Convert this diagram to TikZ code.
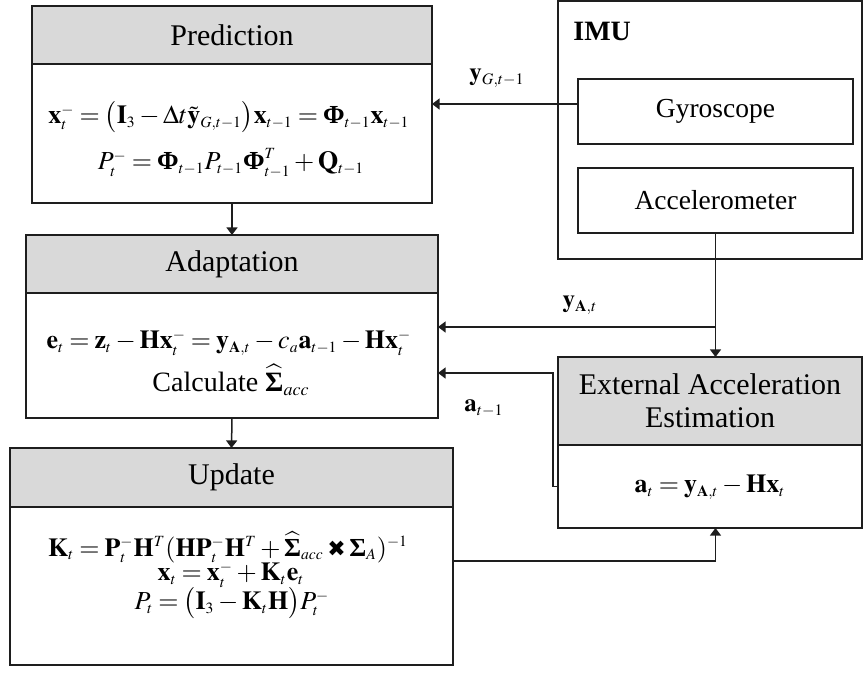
\documentclass[tikz,border=0pt]{standalone}
\usepackage{amsmath}
\usepackage{mathptmx}
\usepackage[no-math]{fontspec}
\setmainfont{Liberation Serif}
\newfontfamily\djv{DejaVu Sans}
\usetikzlibrary{arrows.meta}
\definecolor{hdrgray}{RGB}{217,217,217}
\definecolor{ln}{RGB}{30,30,30}
\newcommand{\bPhi}{\textbf{Φ}}
\newcommand{\bSig}{\textbf{Σ}}
\newcommand{\hSig}{\widehat{\textbf{Σ}}}
\newcommand{\hx}{\mathbin{\mbox{\djv\fontsize{11}{12}\selectfont ✖}}}
\newcommand{\tmsp}{\thickmuskip=3.5mu plus 2mu\relax\medmuskip=2.5mu plus 1mu\relax}
\DeclareMathSizes{13}{13}{7.8}{6}
\DeclareMathSizes{12.5}{12.5}{8}{6}
\DeclareMathSizes{14}{14}{9}{7}
\begin{document}
\begin{tikzpicture}[x=0.5pt,y=-0.5pt,
 box/.style={draw=ln,line width=0.75pt,inner sep=0pt,outer sep=0pt},
 hdr/.style={box,fill=hdrgray,font=\fontsize{15}{16.5}\selectfont,align=center},
 body/.style={box,fill=white},
 txt/.style={inner sep=0pt,font=\fontsize{13}{14}\selectfont\tmsp},
 dev/.style={box,font=\fontsize{13.75}{16}\selectfont},
 arr/.style={draw=ln,line width=0.75pt,-{Triangle[length=3.8pt,width=5.5pt]}},
 lbl/.style={inner sep=0pt,font=\fontsize{12.5}{14}\selectfont}]
\useasboundingbox (0,0) rectangle (864,677);
% Prediction
\node[body,minimum width=200pt,minimum height=69.5pt] (predB) at (232,133.5) {};
\node[hdr,minimum width=200pt,minimum height=29pt] (predH) at (232,35) {Prediction};
\node[txt] (p1) at (229,117) {$\mathbf{x}_t^- = \bigl(\mathbf{I}_3 - \Delta t\tilde{\mathbf{y}}_{G,t-1}\bigr)\mathbf{x}_{t-1} = \bPhi_{t-1}\mathbf{x}_{t-1}$};
\node[txt] (p2) at (231,163) {$P_t^- = \bPhi_{t-1}P_{t-1}\bPhi_{t-1}^T + \mathbf{Q}_{t-1}$};
% Adaptation
\node[body,minimum width=206pt,minimum height=62.5pt] (adapB) at (232,355.5) {};
\node[hdr,minimum width=206pt,minimum height=29pt] (adapH) at (232,264) {Adaptation};
\node[txt] (a1) at (229,343) {$\mathbf{e}_t = \mathbf{z}_t - \mathbf{H}\mathbf{x}_t^- = \mathbf{y}_{\mathbf{A},t} - c_a\mathbf{a}_{t-1} - \mathbf{H}\mathbf{x}_t^-$};
\node[txt,font=\fontsize{14}{16}\selectfont] (a2) at (231,380) {Calculate $\hSig_{acc}$};
% Update
\node[body,minimum width=221.5pt,minimum height=79pt] (updB) at (231.5,586) {};
\node[hdr,minimum width=221.5pt,minimum height=29.5pt] (updH) at (231.5,477.5) {Update};
\node[txt] (u1) at (228,547) {$\mathbf{K}_t = \mathbf{P}_t^-\mathbf{H}^T(\mathbf{H}\mathbf{P}_t^-\mathbf{H}^T + \hSig_{acc} \hx \bSig_A)^{-1}$};
\node[txt] (u2) at (231,575) {$\mathbf{x}_t = \mathbf{x}_t^- + \mathbf{K}_t\mathbf{e}_t$};
\node[txt] (u3) at (232,603) {$P_t = \bigl(\mathbf{I}_3 - \mathbf{K}_t\mathbf{H}\bigr)P_t^-$};
% IMU
\node[box,minimum width=152pt,minimum height=129pt] (imu) at (710,130) {};
\node[lbl,anchor=west,font=\fontsize{14}{16}\selectfont\bfseries] (imuL) at (573,31) {IMU};
\node[dev,minimum width=137.5pt,minimum height=32.5pt] (gyro) at (715.5,111.5) {Gyroscope};
\node[dev,minimum width=137.5pt,minimum height=32.5pt] (acc) at (715.5,200.5) {Accelerometer};
% External acceleration estimation
\node[body,minimum width=152pt,minimum height=41.5pt] (eaeB) at (710,486.5) {};
\node[hdr,minimum width=152pt,minimum height=44pt] (eaeH) at (710,401) {External Acceleration\\Estimation};
\node[txt] (e1) at (710,487) {$\mathbf{a}_t = \mathbf{y}_{\mathbf{A},t} - \mathbf{H}\mathbf{x}_t$};
% connectors
\draw[arr] (predB.south) -- (adapH.north);
\draw[arr] (adapB.south) -- (updH.north);
\coordinate (g1) at ([yshift=3.75pt]gyro.west);
\draw[arr] (g1) -- (g1 -| predB.east);
\node[lbl] (lg) at (497,78) {$\mathbf{y}_{G,t-1}$};
\draw[arr] (acc.south) -- (acc.south |- eaeH.north);
\coordinate (ja) at (715.5,327);
\draw[arr] (ja) -- (ja -| adapB.east);
\node[lbl] (lya) at (580,305) {$\mathbf{y}_{\mathbf{A},t}$};
\coordinate (k) at (553,373);
\draw[arr] (eaeB.west) -| (k) -- (k -| adapB.east);
\node[lbl] (lat) at (484,408) {$\mathbf{a}_{t-1}$};
\coordinate (uo) at (453,561);
\draw[arr] (uo) -| (acc.south |- eaeB.south);
\end{tikzpicture}
\end{document}
